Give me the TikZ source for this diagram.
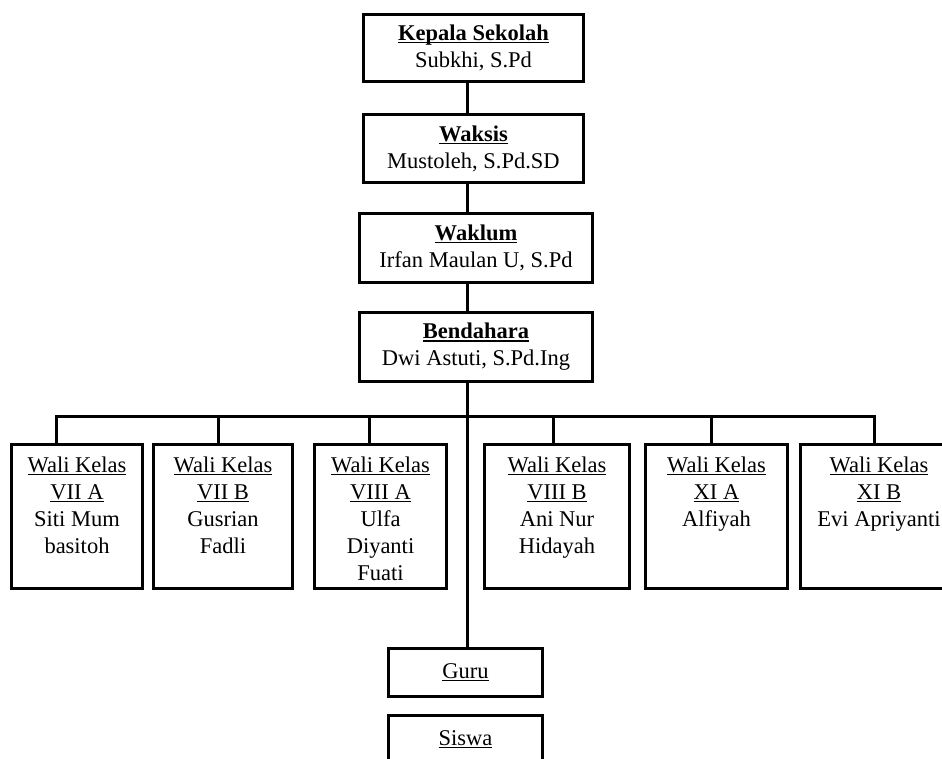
\documentclass[tikz,border=0pt]{standalone}
\usepackage{fontspec}
\setmainfont{Liberation Serif}
\usepackage{tikz}
\usetikzlibrary{positioning, calc}

\newcommand{\walitext}[2]{\parbox[c][144pt][t]{#1}{\centering\vspace*{12pt}#2}}
\newcommand{\garis}[1]{\leavevmode\setbox0\hbox{#1}\rlap{\rule[-2.8pt]{\wd0}{1.3pt}}\box0}

\begin{document}
\begin{tikzpicture}[x=1pt, y=-1pt, line width=3pt,
  box/.style={draw, inner sep=0pt, align=center, font=\fontsize{22.5}{27}\selectfont},
  wali/.style={draw, inner sep=0pt, font=\fontsize{22.5}{27}\selectfont}]
\path[use as bounding box, clip] (0,0) rectangle (942,758);
\coordinate (spine) at (467,0);
% pimpinan
\node[box, minimum width=220pt, minimum height=67pt] (kepala) at (473.5,48) {\garis{\textbf{Kepala Sekolah}}\\Subkhi, S.Pd};
\node[box, minimum width=220pt, minimum height=68pt] (waksis) at (473.5,148.5) {\garis{\textbf{Waksis}}\\Mustoleh, S.Pd.SD};
\node[box, minimum width=233pt, minimum height=69pt] (waklum) at (476,248) {\garis{\textbf{Waklum}}\\Irfan Maulan U, S.Pd};
\node[box, minimum width=233pt, minimum height=69pt] (bendahara) at (476,347) {\garis{\textbf{Bendahara}}\\Dwi Astuti, S.Pd.Ing};
% wali kelas
\node[wali] (wa) at (77,516.5) {\walitext{131pt}{\garis{Wali Kelas}\\\garis{VII A}\\Siti Mum\\basitoh}};
\node[wali] (wb) at (223,516.5) {\walitext{139pt}{\garis{Wali Kelas}\\\garis{VII B}\\Gusrian\\Fadli}};
\node[wali] (wc) at (380.5,516.5) {\walitext{132pt}{\garis{Wali Kelas}\\\garis{VIII A}\\Ulfa\\Diyanti\\Fuati}};
\node[wali] (wd) at (557,516.5) {\walitext{145pt}{\garis{Wali Kelas}\\\garis{VIII B}\\Ani Nur\\Hidayah}};
\node[wali] (we) at (716.5,516.5) {\walitext{142pt}{\garis{Wali Kelas}\\\garis{XI A}\\Alfiyah}};
\node[wali] (wf) at (879,516.5) {\walitext{157pt}{\garis{Wali Kelas}\\\garis{XI B}\\Evi Apriyanti}};
% guru dan siswa
\node[box, minimum width=154pt, minimum height=48pt] (guru) at (465.5,672.5) {\garis{Guru}};
\node[box, minimum width=154pt, minimum height=48pt] (siswa) at (465.5,739.5) {\garis{Siswa}};
% garis
\draw (kepala.south -| spine) -- (waksis.north -| spine);
\draw (waksis.south -| spine) -- (waklum.north -| spine);
\draw (waklum.south -| spine) -- (bendahara.north -| spine);
\draw (bendahara.south -| spine) -- (guru.north -| spine);
\coordinate (busL) at (56,416);
\coordinate (busR) at (874,416);
\draw (wa.north -| busL) -- (busL) -- (busR) -- (wf.north -| busR);
\foreach \b/\dx in {wb/218, wc/369, wd/553, we/711}
  \draw (busL -| \dx,0) -- (\b.north -| \dx,0);
\end{tikzpicture}
\end{document}
